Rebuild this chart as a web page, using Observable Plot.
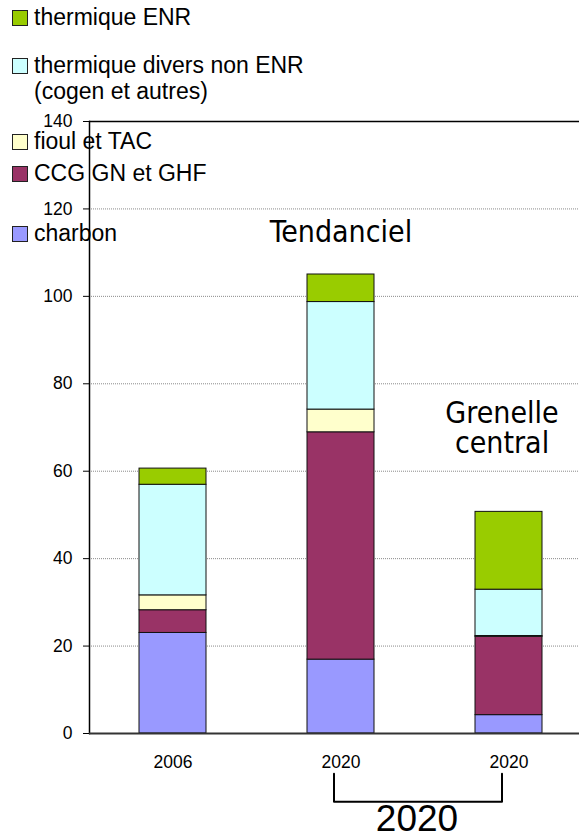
<!DOCTYPE html>
<html><head><meta charset="utf-8">
<script src="https://cdn.jsdelivr.net/npm/d3@7"></script>
<script src="https://cdn.jsdelivr.net/npm/@observablehq/plot@0.6"></script>
<style>
html,body{margin:0;padding:0;background:#fff;}
#wrap{position:relative;width:579px;height:836px;overflow:hidden;background:#fff;}
#wrap svg{position:absolute;left:0;top:0;}
</style></head><body><div id="wrap"></div>
<script>
// ---- data ----
const categories = ["2006", "2020 T", "2020 G"];
const tickLabels = ["2006", "2020", "2020"];
const seriesKeys = ["charbon", "ccg", "fioul", "divers", "enr"];
const seriesNames = ["charbon", "CCG GN et GHF", "fioul et TAC", "thermique divers non ENR\n(cogen et autres)", "thermique ENR"];
const seriesColors = ["#9999FF", "#993366", "#FFFFCC", "#CCFFFF", "#99CC00"];
const charbon = [23.0, 16.9, 4.2];
const ccg = [5.2, 52.0, 17.9];
const fioul = [3.4, 5.2, 0.2];
const divers = [25.3, 24.6, 10.6];
const enr = [3.7, 6.3, 17.8];
const yTicks = [0, 20, 40, 60, 80, 100, 120, 140];
const scenarioLabels = ["Tendanciel", "Grenelle\ncentral"];
const groupLabel = "2020";

const seriesValues = [charbon, ccg, fioul, divers, enr];
const table = [];
seriesKeys.forEach((s, si) => categories.forEach((c, ci) => table.push({cat: c, series: s, value: seriesValues[si][ci]})));

const W = 579, H = 836;
const plot = Plot.plot({
  width: W, height: H,
  marginTop: 121, marginBottom: 103, marginLeft: 89, marginRight: 0,
  style: {fontFamily: "'Liberation Sans', Arial, sans-serif", fontSize: "17.5px", background: "white", overflow: "visible", color: "#000"},
  x: {domain: categories, range: [89, 593], paddingInner: 0.6, paddingOuter: 0.3, align: 0.5, axis: null, label: null},
  y: {domain: [0, 140], axis: null, label: null},
  color: {domain: seriesKeys, range: seriesColors},
  marks: [
    Plot.gridY(yTicks.filter(d => d > 0 && d < 140), {stroke: "#8a8a8a", strokeOpacity: 1, strokeDasharray: "1,1"}),
    Plot.barY(table, {x: "cat", y: "value", fill: "series", stroke: "#111", strokeWidth: 1}),
    Plot.ruleY([140], {stroke: "#000", strokeWidth: 1.5}),
    Plot.frame({anchor: "left", stroke: "#000", strokeWidth: 1.5}),
    Plot.ruleY([0], {stroke: "#333", strokeWidth: 2}),
    Plot.axisY({ticks: yTicks, tickSize: 6, tickPadding: 11, fontSize: 17.5, stroke: "#000", label: null}),
    Plot.axisX({tickSize: 0, tickPadding: 22, fontSize: 17.5, label: null, tickFormat: d => tickLabels[categories.indexOf(d)]}),
    Plot.text([scenarioLabels[0]], {x: () => categories[1], y: () => 112.4, text: d => d, lineAnchor: "bottom", fontSize: 30, fontFamily: "'DejaVu Sans Condensed', 'DejaVu Sans', sans-serif", fontStretch: "condensed", fill: "#000"}),
    Plot.text([scenarioLabels[1]], {x: () => categories[2], y: () => 64.1, dx: -7, text: d => d, lineAnchor: "bottom", lineHeight: 1.0, fontSize: 30, fontFamily: "'DejaVu Sans Condensed', 'DejaVu Sans', sans-serif", fontStretch: "condensed", fill: "#000"}),
    Plot.line([categories[1], categories[1], categories[2], categories[2]], {x: d => d, y: [-9.2, -15.6, -15.6, -9.2], dx: -7, stroke: "#000", strokeWidth: 2, strokeLinejoin: "round"}),
    Plot.text([groupLabel], {x: () => categories[1], y: () => -22.4, dx: 76, text: d => d, lineAnchor: "bottom", fontSize: 37, fill: "#000"})
  ]
});
document.getElementById("wrap").appendChild(plot);

// ---- legend overlay (uses the plot's color scale) ----
const color = plot.scale("color");
const legendOrder = [4, 3, 2, 1, 0];
const legendBaselines = [25, 73, 149, 181, 241];
const leg = d3.select("#wrap").append("svg").attr("width", W).attr("height", H)
  .style("font-family", "'Liberation Sans', Arial, sans-serif").style("font-size", "23px");
legendOrder.forEach((si, k) => {
  const b = legendBaselines[k];
  leg.append("rect").attr("x", 12.5).attr("y", b - 14.5).attr("width", 15).attr("height", 15)
    .attr("fill", color.apply(seriesKeys[si])).attr("stroke", "#222").attr("stroke-width", 1);
  seriesNames[si].split("\n").forEach((line, li) => {
    leg.append("text").attr("x", 34).attr("y", b + li * 26).attr("fill", "#000").text(line);
  });
});
</script></body></html>
